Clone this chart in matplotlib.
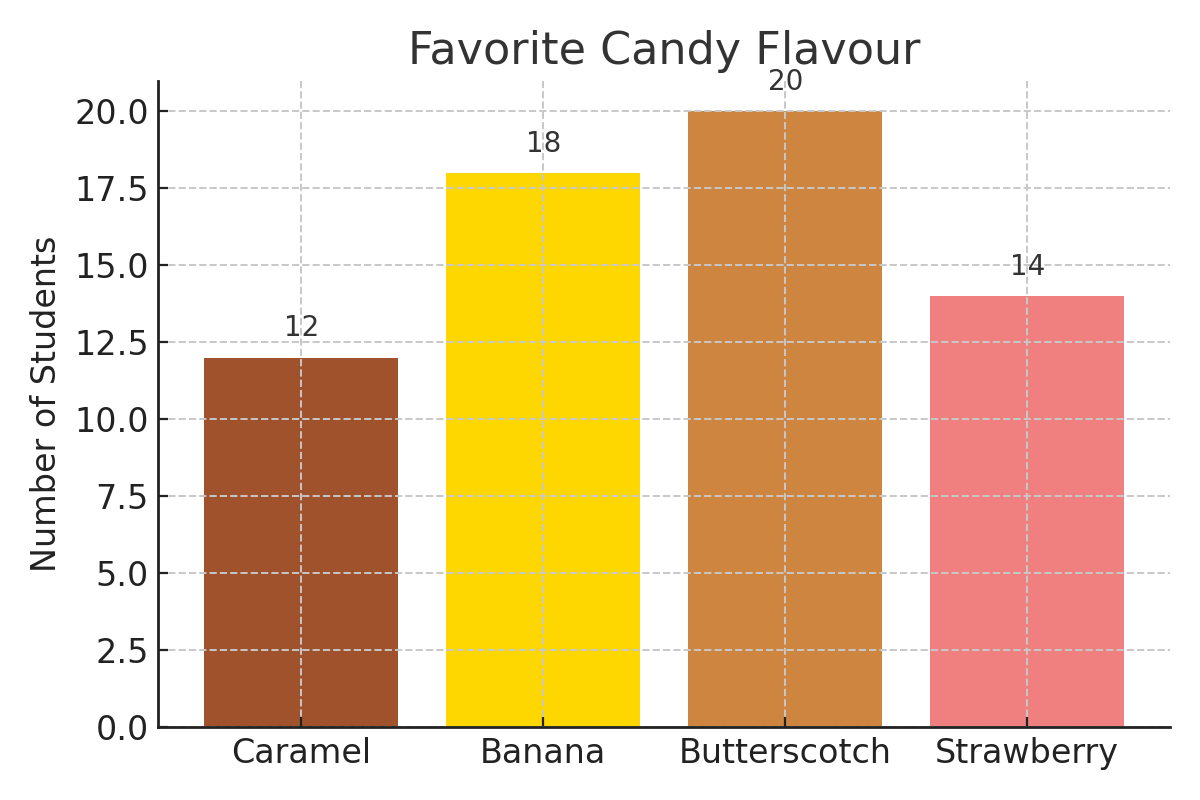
import matplotlib
matplotlib.use("Agg")
import matplotlib.pyplot as plt

flavours = ["Caramel", "Banana", "Butterscotch", "Strawberry"]
students = [12, 18, 20, 14]
colors = ["sienna", "gold", "peru", "lightcoral"]

plt.rcParams.update({
    "xtick.direction": "in",
    "ytick.direction": "in",
    "axes.edgecolor": "#222222",
    "axes.linewidth": 1.0,
    "xtick.color": "#222222",
    "ytick.color": "#222222",
})

fig, ax = plt.subplots(figsize=(6, 4), dpi=200)
bars = ax.bar(flavours, students, color=colors)

for b, v in zip(bars, students):
    ax.text(b.get_x() + b.get_width() / 2, v + 0.5, str(v),
            ha="center", va="bottom", fontsize=10, color="#333333")

ax.set_title("Favorite Candy Flavour", fontsize=16, color="#333333")
ax.set_ylabel("Number of Students", fontsize=12, color="#222222")
ax.set_ylim(0, 21)
ax.tick_params(labelsize=12, labelcolor="#222222")
ax.grid(True, linestyle="--", color="#c8c8c8", linewidth=0.7)
ax.spines["top"].set_visible(False)
ax.spines["right"].set_visible(False)

plt.tight_layout()
plt.savefig("out.png")
